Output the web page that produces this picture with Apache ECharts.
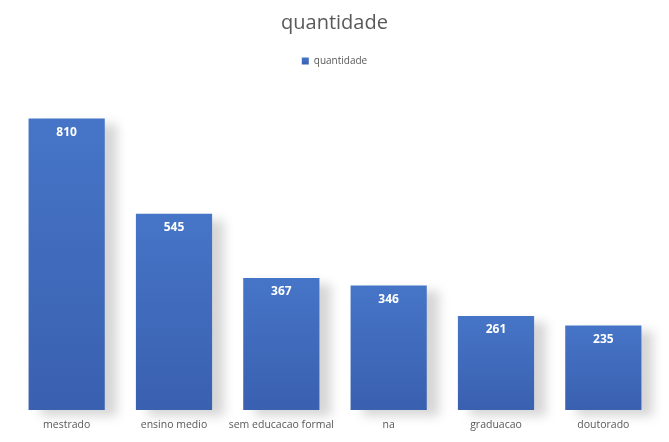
<!DOCTYPE html>
<html>
<head>
<meta charset="utf-8">
<script src="https://cdn.jsdelivr.net/npm/echarts@6/dist/echarts.min.js"></script>
<style>
  html, body { margin: 0; padding: 0; background: #fff; }
  #chart { width: 669px; height: 442px; }
</style>
</head>
<body>
<div id="chart"></div>
<script>
// dados
const categorias = ['mestrado', 'ensino medio', 'sem educacao formal', 'na', 'graduacao', 'doutorado'];
const quantidade = [810, 545, 367, 346, 261, 235];

let myChart = echarts.init(document.getElementById('chart'));
let option = {
  animation: false,
  textStyle: { fontFamily: 'Open Sans' },
  title: {
    text: 'quantidade',
    left: 'center',
    top: 8,
    textStyle: { fontSize: 20, fontWeight: 'normal', color: '#595959' }
  },
  legend: {
    data: ['quantidade'],
    top: 51,
    left: 'center',
    icon: 'rect',
    itemWidth: 7,
    itemHeight: 7,
    itemGap: 4,
    textStyle: { fontSize: 10, color: '#595959' }
  },
  grid: {
    left: 13,
    right: 12,
    top: 86,
    bottom: 32
  },
  xAxis: {
    type: 'category',
    data: categorias,
    axisLine: { show: false },
    axisTick: { show: false },
    axisLabel: { color: '#595959', fontSize: 10.5, margin: 10, interval: 0 }
  },
  yAxis: {
    type: 'value',
    min: 0,
    max: 900,
    show: false,
    splitLine: { show: false }
  },
  series: [
    {
      name: 'quantidade',
      type: 'bar',
      data: quantidade,
      barCategoryGap: '29%',
      itemStyle: {
        color: new echarts.graphic.LinearGradient(0, 0, 0, 1, [
          { offset: 0, color: '#4675c7' },
          { offset: 1, color: '#3a60b0' }
        ]),
        shadowColor: 'rgba(0,0,0,0.16)',
        shadowBlur: 10,
        shadowOffsetX: 12,
        shadowOffsetY: 6
      },
      label: {
        show: true,
        position: 'insideTop',
        distance: 8,
        color: '#ffffff',
        fontWeight: 'bold',
        fontSize: 12
      }
    }
  ]
};
myChart.setOption(option);
</script>
</body>
</html>
